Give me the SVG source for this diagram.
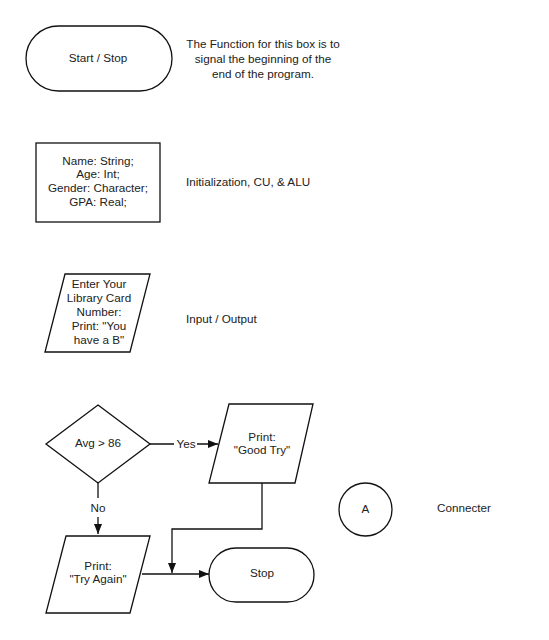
<svg xmlns="http://www.w3.org/2000/svg" width="549" height="640" viewBox="0 0 549 640">
<style>
.s{fill:#fff;stroke:#111;stroke-width:1.3}
.t{font-family:"Liberation Sans",Arial,sans-serif;font-size:11.7px;fill:#222;text-anchor:middle;dominant-baseline:central}
.l{text-anchor:start}
.c{fill:none;stroke:#111;stroke-width:1.3}
</style>
<defs>
<marker id="ah" markerWidth="10" markerHeight="8" refX="10" refY="4" orient="auto" markerUnits="userSpaceOnUse">
<path d="M0,0 L10,4 L0,8 Z" fill="#111"/>
</marker>
</defs>
<rect width="549" height="640" fill="#fff"/>
<g id="connectors">
<path class="c" d="M150,444 L174,444 M197,444 L218,444" marker-end="url(#ah)"/>
<path class="c" d="M98,483 L98,498 M98,517 L98,534" marker-end="url(#ah)"/>
<path class="c" d="M142,574 L209,574" marker-end="url(#ah)"/>
<path class="c" d="M262,483 L262,529 L172,529 L172,573" marker-end="url(#ah)"/>
<text class="t" x="186" y="443">Yes</text>
<text class="t" x="98" y="507">No</text>
</g>
<g id="start-stop">
<rect class="s" x="26" y="26" width="146" height="65" rx="32.5"/>
<text class="t" x="98" y="57">Start / Stop</text>
</g>
<g id="start-desc">
<text class="t" x="263" y="43">The Function for this box is to</text>
<text class="t" x="263" y="58">signal the beginning of the</text>
<text class="t" x="263" y="73">end of the program.</text>
</g>
<g id="init">
<rect class="s" x="36" y="143" width="124" height="79"/>
<text class="t" x="98" y="160">Name: String;</text>
<text class="t" x="98" y="173">Age: Int;</text>
<text class="t" x="98" y="187">Gender: Character;</text>
<text class="t" x="98" y="201">GPA: Real;</text>
</g>
<text class="t l" x="186" y="181">Initialization, CU, &amp; ALU</text>
<g id="io">
<polygon class="s" points="65,274 150,274 130,352 45,352"/>
<text class="t" x="99" y="283">Enter Your</text>
<text class="t" x="99" y="297">Library Card</text>
<text class="t" x="99" y="311">Number:</text>
<text class="t" x="99" y="325">Print: "You</text>
<text class="t" x="99" y="339">have a B"</text>
</g>
<text class="t l" x="186" y="318">Input / Output</text>
<g id="decision">
<polygon class="s" points="98,405 150,444 98,483 46,444"/>
<text class="t" x="98" y="442">Avg &gt; 86</text>
</g>
<g id="good-try">
<polygon class="s" points="229,404 313,404 295,483 209,483"/>
<text class="t" x="262" y="436">Print:</text>
<text class="t" x="262" y="449">"Good Try"</text>
</g>
<g id="try-again">
<polygon class="s" points="66,536 150,536 130,613 46,613"/>
<text class="t" x="98" y="565">Print:</text>
<text class="t" x="98" y="578">"Try Again"</text>
</g>
<g id="stop">
<rect class="s" x="209" y="548" width="105" height="54" rx="27"/>
<text class="t" x="262" y="572">Stop</text>
</g>
<g id="connector-a">
<circle class="s" cx="365.5" cy="509.5" r="26.5"/>
<text class="t" x="365.5" y="508">A</text>
</g>
<text class="t l" x="437" y="507">Connecter</text>
</svg>
